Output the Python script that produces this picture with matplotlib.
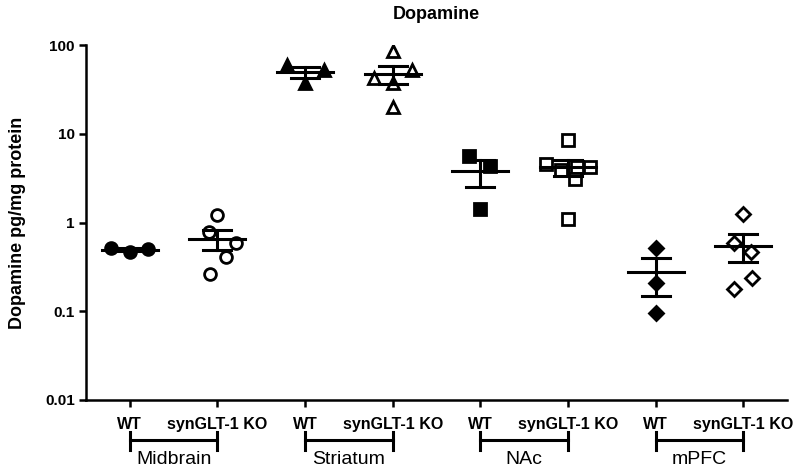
import numpy as np
import matplotlib
matplotlib.use('Agg')
import matplotlib.pyplot as plt
import matplotlib.transforms as mtransforms

plt.rcParams['font.family'] = ['Liberation Sans', 'DejaVu Sans']

regions = ['Midbrain', 'Striatum', 'NAc', 'mPFC']
genotypes = ['WT', 'synGLT-1 KO']

# dopamine values (pg/mg protein)
midbrain_wt = [0.52, 0.46, 0.50]
midbrain_ko = [1.22, 0.78, 0.59, 0.41, 0.26]
striatum_wt = [59, 52, 37]
striatum_ko = [86, 52, 42, 37, 20]
nac_wt = [5.6, 4.3, 1.42]
nac_ko = [8.5, 4.56, 3.9, 4.2, 4.2, 3.09, 1.1]
mpfc_wt = [0.52, 0.21, 0.096]
mpfc_ko = [1.25, 0.59, 0.47, 0.24, 0.18]

groups = [midbrain_wt, midbrain_ko, striatum_wt, striatum_ko,
          nac_wt, nac_ko, mpfc_wt, mpfc_ko]

# horizontal scatter of the points within each column
jitter = [[-0.21, 0, 0.21],
          [0, -0.1, 0.21, 0.1, -0.09],
          [-0.21, 0.22, 0],
          [0, 0.22, -0.21, 0, 0],
          [-0.13, 0.11, 0],
          [0, -0.25, -0.08, 0.1, 0.25, 0.08, 0],
          [0, 0, 0],
          [0, -0.11, 0.09, 0.1, -0.11]]
markers = ['o', 'o', '^', '^', 's', 's', 'D', 'D']
msizes = [8.5, 8.5, 8.5, 8.5, 8.5, 8.5, 7, 7]

fig = plt.figure(figsize=(8, 4.67), dpi=100)
ax = fig.add_axes([0.1075, 0.1435, 0.8763, 0.7601])

for i, vals in enumerate(groups):
    x = i + 1
    vals = np.array(vals, dtype=float)
    xs = x + np.array(jitter[i])
    filled = (i % 2 == 0)
    ax.plot(xs, vals, linestyle='none', marker=markers[i], markersize=msizes[i],
            markerfacecolor='black' if filled else 'white',
            markeredgecolor='black', markeredgewidth=2, zorder=3)
    mean = vals.mean()
    sem = vals.std(ddof=1) / np.sqrt(len(vals))
    ax.plot([x - 0.32, x + 0.32], [mean, mean], color='black', lw=2.2, zorder=4)
    ax.plot([x, x], [mean - sem, mean + sem], color='black', lw=2.2, zorder=4)
    for y in (mean - sem, mean + sem):
        ax.plot([x - 0.16, x + 0.16], [y, y], color='black', lw=2.2, zorder=4)

ax.set_yscale('log')
ax.set_ylim(0.01, 100)
ax.set_xlim(0.5, 8.5)
ax.set_yticks([0.01, 0.1, 1, 10, 100])
ax.set_yticklabels(['0.01', '0.1', '1', '10', '100'], fontsize=11, fontweight='bold')
ax.minorticks_off()
ax.set_xticks(range(1, 9))
ax.set_xticklabels(genotypes * 4, fontsize=11.5, fontweight='bold')

for side in ('top', 'right'):
    ax.spines[side].set_visible(False)
for side in ('left', 'bottom'):
    ax.spines[side].set_linewidth(1.8)
ax.tick_params(axis='both', width=1.8, length=5, pad=3)
ax.tick_params(axis='x', pad=7)
ax.set_ylabel('Dopamine pg/mg protein', fontsize=13, fontweight='bold', labelpad=14)
ax.set_title('Dopamine', fontsize=13, fontweight='bold', pad=19)

# region brackets under the tick labels
trans = mtransforms.blended_transform_factory(ax.transData, ax.transAxes)
for k, name in enumerate(regions):
    x0, x1 = 2 * k + 1, 2 * k + 2
    ax.plot([x0, x1], [-0.113, -0.113], color='black', lw=2.2, transform=trans, clip_on=False)
    for xe in (x0, x1):
        ax.plot([xe, xe], [-0.09, -0.141], color='black', lw=2.2, transform=trans, clip_on=False)
    ax.text((x0 + x1) / 2, -0.168, name, transform=trans, ha='center', va='center',
            fontsize=14)

fig.savefig('out.png', dpi=100)
